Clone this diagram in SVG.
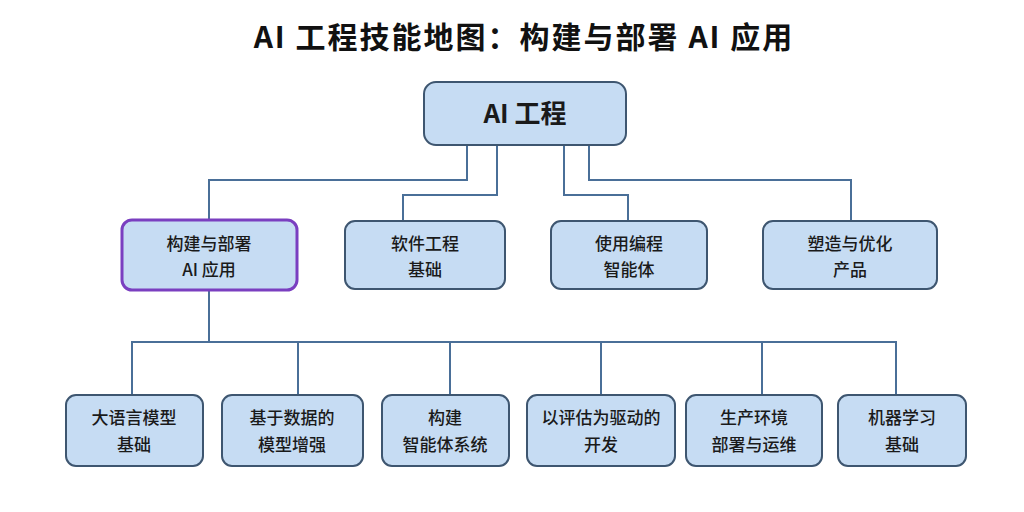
<svg xmlns="http://www.w3.org/2000/svg" width="1024" height="512" viewBox="0 0 1024 512">
<style>
.n{fill:#c6dcf3;stroke:#3e5670;stroke-width:2}
.p{fill:#c6dcf3;stroke:#7a3fc0;stroke-width:3}
.t{font-family:"Noto Sans CJK SC","Noto Sans",sans-serif;font-size:17px;fill:#1a1a1a;text-anchor:middle;font-weight:500}
.c{fill:none;stroke:#4a6f98;stroke-width:2}
</style>
<rect width="1024" height="512" fill="#fff"/>
<text x="524" y="48" style="font-family:'Noto Sans CJK SC','Noto Sans',sans-serif;font-size:30px;letter-spacing:2px;font-weight:700;text-anchor:middle;fill:#111">AI 工程技能地图：构建与部署 AI 应用</text>
<g id="connectors" class="c">
<path d="M467 145V180H209V220"/>
<path d="M497 145V195H403V221"/>
<path d="M564 145V195H628V221"/>
<path d="M589 145V180H851V221"/>
<path d="M209 290V342"/>
<path d="M132 395V342H896V395"/>
<path d="M298 342V395M450 342V395M601 342V395M762 342V395"/>
</g>
<g id="root"><rect class="n" x="424" y="82" width="202" height="63" rx="12"/><text x="525" y="123" class="t" style="font-size:26px;font-weight:700">AI 工程</text></g>
<g id="n1"><rect class="p" x="122" y="220" width="175" height="70" rx="10"/><text class="t" x="209" y="250">构建与部署</text><text class="t" x="209" y="276">AI 应用</text></g>
<g id="n2"><rect class="n" x="345" y="221" width="160" height="68" rx="10"/><text class="t" x="425" y="250">软件工程</text><text class="t" x="425" y="276">基础</text></g>
<g id="n3"><rect class="n" x="551" y="221" width="156" height="68" rx="10"/><text class="t" x="629" y="250">使用编程</text><text class="t" x="629" y="276">智能体</text></g>
<g id="n4"><rect class="n" x="763" y="221" width="174" height="68" rx="10"/><text class="t" x="850" y="250">塑造与优化</text><text class="t" x="850" y="276">产品</text></g>
<g id="b1"><rect class="n" x="66" y="395" width="137" height="71" rx="10"/><text class="t" x="134" y="424">大语言模型</text><text class="t" x="134" y="451">基础</text></g>
<g id="b2"><rect class="n" x="222" y="395" width="141" height="71" rx="10"/><text class="t" x="292" y="424">基于数据的</text><text class="t" x="292" y="451">模型增强</text></g>
<g id="b3"><rect class="n" x="382" y="395" width="127" height="71" rx="10"/><text class="t" x="445" y="424">构建</text><text class="t" x="445" y="451">智能体系统</text></g>
<g id="b4"><rect class="n" x="527" y="395" width="148" height="71" rx="10"/><text class="t" x="601" y="424">以评估为驱动的</text><text class="t" x="601" y="451">开发</text></g>
<g id="b5"><rect class="n" x="686" y="395" width="136" height="71" rx="10"/><text class="t" x="754" y="424">生产环境</text><text class="t" x="754" y="451">部署与运维</text></g>
<g id="b6"><rect class="n" x="838" y="395" width="128" height="71" rx="10"/><text class="t" x="902" y="424">机器学习</text><text class="t" x="902" y="451">基础</text></g>
</svg>
